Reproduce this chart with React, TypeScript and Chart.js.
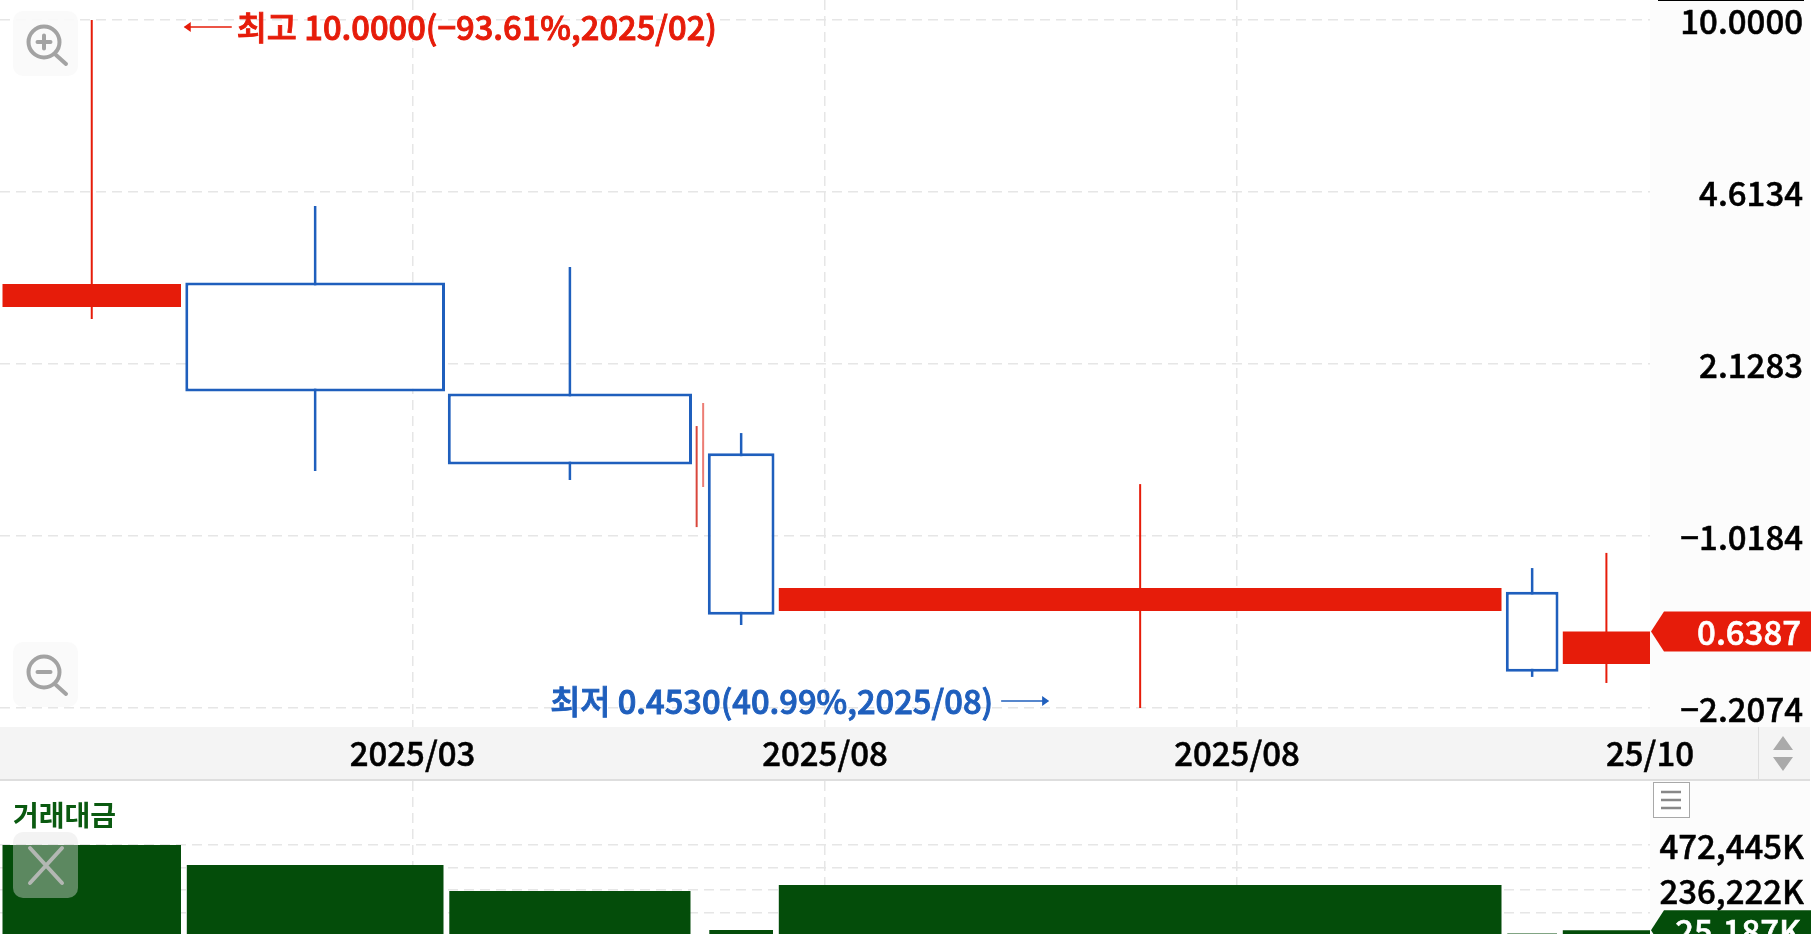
import React, { useEffect, useRef } from "react";
import { Chart, registerables } from "chart.js";

Chart.register(...registerables);

// ---- data ----
const candleVolumes = [178.5, 256.7, 241.2, 0.7, 0.7, 63.7, 722.7, 49.7, 87.2];
const opens = [2.75, 3.07, 1.864, 1.1, 1.3, 1.424, 0.701, 0.764, 0.552];
const closes = [3.05, 1.88, 1.355, 1.3, 1.5, 0.689, 0.777, 0.533, 0.6387];
const highs = [10, 4.332, 3.292, 1.61, 1.786, 1.56, 1.24, 0.85, 0.91];
const lows = [2.606, 1.315, 1.263, 1.022, 1.224, 0.658, 0.453, 0.521, 0.507];
const tradeValues = [472445, 367500, 231000, 3000, 3000, 26000, 262000, 8000, 25187];

const priceTickValues = [10, 4.6134, 2.1283, 0.9819, 0.453];
const priceTickLabels = ["10.0000", "4.6134", "2.1283", "\u22121.0184", "\u22122.2074"];
const xTickValues = [412.5, 825, 1237, 1650];
const xTickLabels = ["2025/03", "2025/08", "2025/08", "25/10"];
const valueTickValues = [118111, 236222, 354334, 472445];
const valueTickLabels = ["", "236,222K", "", "472,445K"];
const highNote = "최고 10.0000(\u221293.61%,2025/02)";
const lowNote = "최저 0.4530(40.99%,2025/08)";
const lastPriceLabel = "0.6387";
const lastValueLabel = "25,187K";
const paneTitle = "거래대금";

// ---- layout & style ----
const FONT = '"Noto Sans CJK KR", "Noto Sans", sans-serif';
const RED = "#e61c0a";
const BLUE = "#1f5fbd";
const GREEN = "#044d0a";
const GRID = "#e6e6e6";
const START = 2.5;
const GAP = 5.8;
const X_MAX = 1650;
const W = 1811;
const DASH = [10, 6];
const HOLLOW_OUTSET = 3;

const edges: { left: number; center: number }[] = [];
{
  let cursor = START;
  for (const v of candleVolumes) {
    edges.push({ left: cursor, center: cursor + v / 2 });
    cursor += v + GAP;
  }
}

const isUp = (i: number) => closes[i] >= opens[i];
const thin = (i: number) => candleVolumes[i] < 2;
const thinColors: Record<number, string> = { 3: "#d9473c", 4: "#ec7d74" };

const tickFont = { family: FONT, size: 33, weight: "500" };

function tag(ctx: CanvasRenderingContext2D, y: number, left: number, color: string, text: string) {
  ctx.save();
  ctx.fillStyle = color;
  ctx.beginPath();
  ctx.moveTo(left + 1, y);
  ctx.lineTo(left + 14, y - 20);
  ctx.lineTo(W, y - 20);
  ctx.lineTo(W, y + 20);
  ctx.lineTo(left + 14, y + 20);
  ctx.closePath();
  ctx.fill();
  ctx.fillStyle = "#ffffff";
  ctx.strokeStyle = "#ffffff";
  ctx.lineWidth = 0.6;
  ctx.font = `500 33px ${FONT}`;
  ctx.textAlign = "right";
  ctx.textBaseline = "middle";
  ctx.fillText(text, 1801, y + 1);
  ctx.strokeText(text, 1801, y + 1);
  ctx.restore();
}

const noteFont = `500 32.7px ${FONT}`;

const pricePlugin = {
  id: "pricePane",
  beforeDraw(chart: any) {
    const { ctx, chartArea, scales } = chart;
    ctx.save();
    ctx.fillStyle = "#fcfcfc";
    ctx.fillRect(chartArea.right, 0, W - chartArea.right - 1, chartArea.bottom);
    ctx.fillStyle = "#f4f4f4";
    ctx.fillRect(0, scales.x.top, W - 1, scales.x.height - 2);
    ctx.fillStyle = "#dedede";
    ctx.fillRect(0, scales.x.bottom - 2, W - 1, 2);
    ctx.fillRect(1758, scales.x.top, 1, scales.x.height - 2);
    ctx.fillStyle = "#aaaaaa";
    ctx.beginPath();
    ctx.moveTo(1783, 736);
    ctx.lineTo(1773, 750);
    ctx.lineTo(1793, 750);
    ctx.closePath();
    ctx.moveTo(1783, 771);
    ctx.lineTo(1773, 757);
    ctx.lineTo(1793, 757);
    ctx.closePath();
    ctx.fill();
    ctx.fillStyle = "#000000";
    ctx.fillRect(1658, 0, 146, 1);
    ctx.restore();
  },
  afterDraw(chart: any) {
    const { ctx, scales } = chart;
    const x = scales.x;
    const y = scales.y;
    const hi = highs.indexOf(Math.max(...highs));
    const lo = lows.indexOf(Math.min(...lows));
    ctx.save();
    ctx.font = noteFont;
    ctx.textBaseline = "middle";
    // high note
    const hx = x.getPixelForValue(edges[hi].center);
    const hy = y.getPixelForValue(highs[hi]);
    ctx.fillStyle = RED;
    ctx.strokeStyle = RED;
    ctx.lineWidth = 1.5;
    ctx.beginPath();
    ctx.moveTo(hx + 93, hy + 7);
    ctx.lineTo(hx + 140, hy + 7);
    ctx.stroke();
    ctx.beginPath();
    ctx.moveTo(hx + 92, hy + 7);
    ctx.lineTo(hx + 99, hy + 2);
    ctx.lineTo(hx + 99, hy + 12);
    ctx.closePath();
    ctx.fill();
    ctx.textAlign = "left";
    ctx.lineWidth = 0.9;
    ctx.fillText(highNote, hx + 145, hy + 8);
    ctx.strokeText(highNote, hx + 145, hy + 8);
    // low note
    const lx = x.getPixelForValue(edges[lo].center);
    const ly = y.getPixelForValue(lows[lo]);
    ctx.fillStyle = BLUE;
    ctx.strokeStyle = BLUE;
    ctx.lineWidth = 1.5;
    ctx.beginPath();
    ctx.moveTo(lx - 139, ly - 7);
    ctx.lineTo(lx - 92, ly - 7);
    ctx.stroke();
    ctx.beginPath();
    ctx.moveTo(lx - 91, ly - 7);
    ctx.lineTo(lx - 98, ly - 12);
    ctx.lineTo(lx - 98, ly - 2);
    ctx.closePath();
    ctx.fill();
    ctx.textAlign = "right";
    ctx.lineWidth = 0.9;
    ctx.fillText(lowNote, lx - 147, ly - 6);
    ctx.strokeText(lowNote, lx - 147, ly - 6);
    ctx.restore();
    tag(ctx, y.getPixelForValue(closes[closes.length - 1]), chart.chartArea.right, RED, lastPriceLabel);
  },
};

const valuePlugin = {
  id: "valuePane",
  beforeDraw(chart: any) {
    const { ctx, chartArea } = chart;
    ctx.save();
    ctx.fillStyle = "#fcfcfc";
    ctx.fillRect(chartArea.right, 0, W - chartArea.right - 1, chart.height);
    ctx.restore();
  },
  afterDraw(chart: any) {
    const y = chart.scales.y;
    tag(chart.ctx, y.getPixelForValue(tradeValues[tradeValues.length - 1]), chart.chartArea.right, GREEN, lastValueLabel);
  },
};

const fixY = (width: number) => (s: any) => {
  s.width = width;
  s.paddingTop = 0;
  s.paddingBottom = 0;
};

function baseX(showLabels: boolean, height: number) {
  return {
    type: "linear",
    min: 0,
    max: X_MAX,
    offset: false,
    border: { display: false, dash: DASH },
    grid: {
      offset: false,
      color: (c: any) => (c.tick && c.tick.value === X_MAX ? "transparent" : GRID),
      lineWidth: 1.5,
      drawTicks: false,
    },
    afterBuildTicks: (s: any) => {
      s.ticks = xTickValues.map((value) => ({ value }));
    },
    afterFit: (s: any) => {
      s.height = height;
      s.paddingLeft = 0;
      s.paddingRight = 0;
    },
    ticks: {
      display: showLabels,
      autoSkip: false,
      maxRotation: 0,
      padding: 7,
      color: "#000000",
      textStrokeColor: "#000000",
      textStrokeWidth: 0.5,
      font: tickFont,
      callback: (_v: any, i: number) => xTickLabels[i],
    },
  };
}

export default function App() {
  const priceRef = useRef<HTMLCanvasElement>(null);
  const valueRef = useRef<HTMLCanvasElement>(null);

  useEffect(() => {
    const bodies = candleVolumes.map((v, i) => ({
      type: "bar",
      label: `body ${i}`,
      order: 1,
      grouped: false,
      barThickness: isUp(i) || thin(i) ? v : v + HOLLOW_OUTSET,
      borderSkipped: false,
      inflateAmount: 0,
      borderWidth: isUp(i) || thin(i) ? 0 : 3,
      borderColor: BLUE,
      backgroundColor: thin(i) ? thinColors[i] : isUp(i) ? RED : "#ffffff",
      data: [{ x: edges[i].center, y: [opens[i], closes[i]] }],
    }));
    const wicks = candleVolumes.map((_, i) => ({
      type: "bar",
      label: `wick ${i}`,
      order: 2,
      grouped: false,
      barThickness: !isUp(i) ? 2.5 : 2,
      borderSkipped: false,
      inflateAmount: 0,
      borderWidth: 0,
      backgroundColor: thin(i) ? thinColors[i] : isUp(i) ? RED : BLUE,
      data: [{ x: edges[i].center, y: [lows[i], highs[i]] }],
    }));

    const price = new Chart(priceRef.current!, {
      type: "bar",
      data: { datasets: [...bodies, ...wicks] as any },
      plugins: [pricePlugin],
      options: {
        animation: false,
        responsive: false,
        events: [],
        layout: { padding: { right: 8 } },
        plugins: { legend: { display: false }, tooltip: { enabled: false } },
        scales: {
          x: baseX(true, 54) as any,
          y: {
            type: "logarithmic",
            position: "right",
            min: 0.4159,
            max: 10.94,
            border: { display: false, dash: DASH },
            grid: { color: GRID, lineWidth: 1.5, drawTicks: false },
            afterBuildTicks: (s: any) => {
              s.ticks = priceTickValues.map((value) => ({ value }));
            },
            afterFit: fixY(153),
            ticks: {
              autoSkip: false,
              crossAlign: "far",
              labelOffset: 1,
              color: "#000000",
              textStrokeColor: "#000000",
              textStrokeWidth: 0.5,
              font: tickFont,
              callback: (_v: any, i: number) => priceTickLabels[i],
            },
          } as any,
        },
      } as any,
    });

    const vol = new Chart(valueRef.current!, {
      type: "bar",
      data: {
        datasets: candleVolumes.map((v, i) => ({
          label: `value ${i}`,
          grouped: false,
          barThickness: Math.max(v, 1),
          inflateAmount: 0,
          borderWidth: 0,
          backgroundColor: GREEN,
          data: [{ x: edges[i].center, y: tradeValues[i] }],
        })) as any,
      },
      plugins: [valuePlugin],
      options: {
        animation: false,
        responsive: false,
        events: [],
        layout: { padding: { right: 7 } },
        plugins: { legend: { display: false }, tooltip: { enabled: false } },
        scales: {
          x: baseX(false, 0) as any,
          y: {
            type: "linear",
            position: "right",
            min: 0,
            max: 808400,
            border: { display: false, dash: DASH },
            grid: { color: GRID, lineWidth: 1.5, drawTicks: false },
            afterBuildTicks: (s: any) => {
              s.ticks = valueTickValues.map((value) => ({ value }));
            },
            afterFit: fixY(154),
            ticks: {
              autoSkip: false,
              crossAlign: "far",
              labelOffset: 1,
              color: "#000000",
              textStrokeColor: "#000000",
              textStrokeWidth: 0.5,
              font: tickFont,
              callback: (_v: any, i: number) => valueTickLabels[i],
            },
          } as any,
        },
      } as any,
    });

    return () => {
      price.destroy();
      vol.destroy();
    };
  }, []);

  const grey = "#a3a3a3";
  return (
    <div style={{ position: "fixed", left: 0, top: 0, width: W, height: 934, overflow: "hidden", background: "#fff" }}>
      <canvas ref={priceRef} width={W} height={781} style={{ position: "absolute", left: 0, top: 0, width: W, height: 781 }} />
      <canvas ref={valueRef} width={W} height={154} style={{ position: "absolute", left: 0, top: 781, width: W, height: 154 }} />
      <div
        style={{
          position: "absolute",
          left: 13,
          top: 794,
          fontFamily: FONT,
          fontWeight: 700,
          fontSize: 28,
          lineHeight: "40px",
          color: "#0a5a10",
        }}
      >
        {paneTitle}
      </div>
      <svg width={W} height={934} style={{ position: "absolute", left: 0, top: 0, pointerEvents: "none" }}>
        <rect x={13} y={11} width={65} height={65} rx={10} fill="#f9f9f9" fillOpacity={0.9} />
        <circle cx={44} cy={42} r={15.5} fill="none" stroke={grey} strokeWidth={4} />
        <path d="M37.5 42H50.5M44 35.5V48.5" stroke={grey} strokeWidth={4} strokeLinecap="round" />
        <path d="M56 55L66 64" stroke={grey} strokeWidth={4} strokeLinecap="round" />
        <rect x={13} y={642} width={65} height={65} rx={10} fill="#f9f9f9" fillOpacity={0.9} />
        <circle cx={44} cy={672} r={15.5} fill="none" stroke={grey} strokeWidth={4} />
        <path d="M37.5 672H50.5" stroke={grey} strokeWidth={4} strokeLinecap="round" />
        <path d="M56 685L66 694" stroke={grey} strokeWidth={4} strokeLinecap="round" />
        <rect x={13} y={832} width={65} height={66} rx={10} fill="#e0e0e0" fillOpacity={0.4} />
        <path d="M30 848L62 883M62 848L30 883" stroke="#bcbcbc" strokeOpacity={0.9} strokeWidth={4} strokeLinecap="round" />
        <rect x={1653.5} y={782.5} width={36} height={35} fill="#ffffff" stroke="#a8a8a8" strokeWidth={1} />
        <path d="M1661 792H1681M1661 800H1681M1661 808H1681" stroke="#888888" strokeWidth={2.5} />
      </svg>
    </div>
  );
}
